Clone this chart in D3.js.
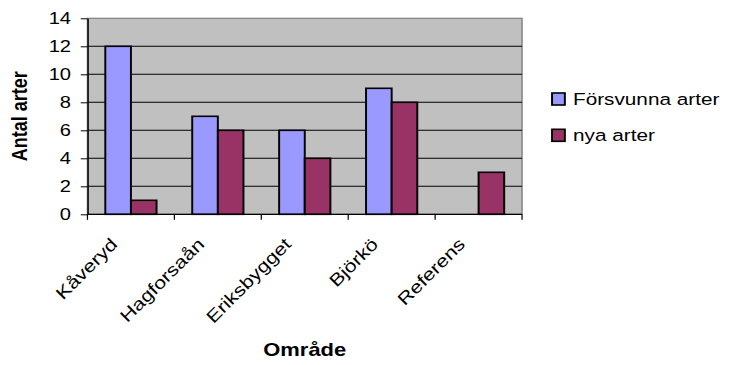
<!DOCTYPE html>
<html>
<head>
<meta charset="utf-8">
<script src="https://cdn.jsdelivr.net/npm/d3@7"></script>
<style>
  html, body { margin: 0; padding: 0; background: #fff; }
  svg { display: block; }
  text { font-family: "Liberation Sans", Arial, sans-serif; fill: #000; }
</style>
</head>
<body>
<svg id="chart" width="732" height="365"></svg>
<script>
// Artförändringar per område
const categories = ["Kåveryd", "Hagforsaån", "Eriksbygget", "Björkö", "Referens"];
const seriesNames = ["Försvunna arter", "nya arter"];
const forsvunna = [12, 7, 6, 9, 0];
const nya = [1, 6, 4, 8, 3];
const yTicks = [0, 2, 4, 6, 8, 10, 12, 14];
const colors = ["#9999FF", "#993366"];

const seriesValues = [forsvunna, nya];

const W = 732, H = 365;
// The chart is laid out on a 600-wide canvas and stretched to the window width.
const sx = W / 600;

const svg = d3.select("#chart");
const root = svg.append("g").attr("transform", `scale(${sx},1)`);

const plot = { left: 71.7, right: 427.9, top: 18.3, bottom: 214.3 };

const x = d3.scaleBand().domain(categories).range([plot.left, plot.right]).paddingInner(0).paddingOuter(0);
const barW = 21;
const groupOff = (x.bandwidth() - 2 * barW) / 2;
const xs = d3.scaleBand().domain(seriesNames).range([groupOff, groupOff + 2 * barW]).padding(0);
const y = d3.scaleLinear().domain([0, 14]).range([plot.bottom, plot.top]);

// plot background
root.append("rect")
  .attr("x", plot.left).attr("y", plot.top)
  .attr("width", plot.right - plot.left).attr("height", plot.bottom - plot.top)
  .attr("fill", "#C0C0C0").attr("stroke", "#808080").attr("stroke-width", 1.2);

// gridlines
root.append("g").selectAll("line")
  .data(yTicks.filter(d => d > 0 && d < 14))
  .join("line")
  .attr("x1", plot.left).attr("x2", plot.right)
  .attr("y1", d => y(d)).attr("y2", d => y(d))
  .attr("stroke", "#000").attr("stroke-width", 1);

// bars
const rows = [];
categories.forEach((c, i) => {
  seriesNames.forEach((s, j) => {
    rows.push({ c, s, v: seriesValues[j][i], color: colors[j] });
  });
});
root.append("g").selectAll("rect")
  .data(rows.filter(d => d.v > 0))
  .join("rect")
  .attr("x", d => x(d.c) + xs(d.s))
  .attr("width", xs.bandwidth())
  .attr("y", d => y(d.v))
  .attr("height", d => y(0) - y(d.v))
  .attr("fill", d => d.color)
  .attr("stroke", "#000").attr("stroke-width", 1.6);

// y axis
const yAxis = root.append("g")
  .attr("transform", `translate(${plot.left},0)`)
  .call(d3.axisLeft(y).tickValues(yTicks).tickSize(5.5).tickSizeOuter(0).tickPadding(8));
yAxis.select(".domain").attr("stroke", "#000").attr("stroke-width", 1.2);
yAxis.selectAll(".tick line").attr("stroke", "#000");
yAxis.selectAll(".tick text")
  .attr("font-size", 16.5).attr("font-family", "Liberation Sans, Arial, sans-serif").attr("fill", "#000");

// x axis line with ticks at category boundaries
const xAxis = root.append("g");
xAxis.append("line")
  .attr("x1", plot.left).attr("x2", plot.right)
  .attr("y1", plot.bottom).attr("y2", plot.bottom)
  .attr("stroke", "#000").attr("stroke-width", 1.2);
const bounds = categories.map(c => x(c)).concat([x(categories[categories.length - 1]) + x.bandwidth()]);
xAxis.selectAll("line.tk")
  .data(bounds)
  .join("line").attr("class", "tk")
  .attr("x1", d => d).attr("x2", d => d)
  .attr("y1", plot.bottom).attr("y2", plot.bottom + 5.5)
  .attr("stroke", "#000");

// category labels at 45°, glyphs widened along the baseline
svg.append("g").selectAll("text.cat")
  .data(categories)
  .join("text").attr("class", "cat")
  .attr("text-anchor", "end")
  .attr("font-size", 17.5)
  .attr("transform", d => `translate(${(x(d) + x.bandwidth() / 2) * sx - 12.5},${plot.bottom + 31}) rotate(-45) scale(${sx},1)`)
  .text(d => d);

// axis titles
root.append("text")
  .attr("text-anchor", "middle")
  .attr("font-size", 18).attr("font-weight", "bold")
  .attr("x", (plot.left + plot.right) / 2).attr("y", 356.5)
  .text("Område");

root.append("text")
  .attr("text-anchor", "middle")
  .attr("font-size", 18).attr("font-weight", "bold")
  .attr("transform", `translate(22.5,${(plot.top + plot.bottom) / 2}) rotate(-90)`)
  .text("Antal arter");

// legend
const legend = root.append("g");
const legY = [93, 129.3];
seriesNames.forEach((s, j) => {
  legend.append("rect")
    .attr("x", 452.5).attr("y", legY[j])
    .attr("width", 10.5).attr("height", 12)
    .attr("fill", colors[j]).attr("stroke", "#000").attr("stroke-width", 1.6);
  legend.append("text")
    .attr("x", 469.7).attr("y", legY[j] + 12)
    .attr("font-size", 17)
    .text(s);
});
</script>
</body>
</html>
